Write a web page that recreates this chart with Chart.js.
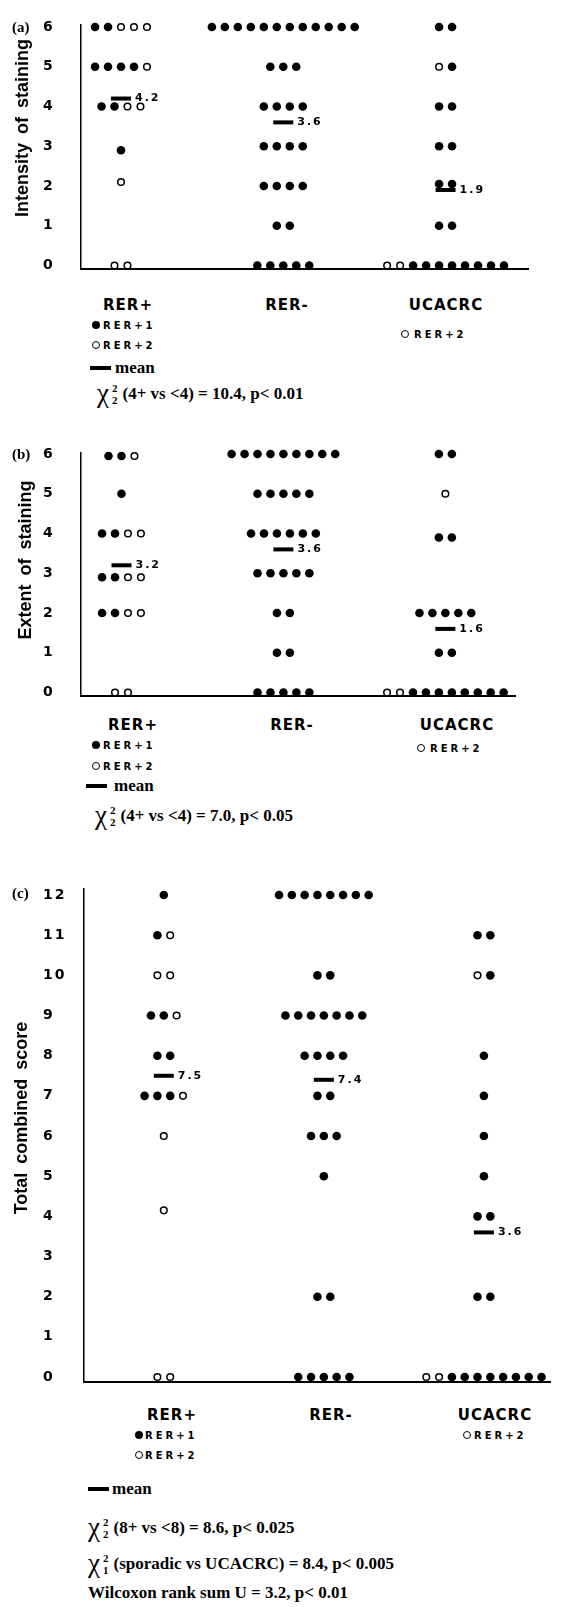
<!DOCTYPE html>
<html><head><meta charset="utf-8">
<script src="https://cdn.jsdelivr.net/npm/chart.js@4/dist/chart.umd.min.js"></script>
<style>
html,body{margin:0;padding:0;background:#fff;}
body{width:564px;height:1607px;position:relative;overflow:hidden;color:#000;}
canvas{position:absolute;left:0;}
.t{position:absolute;white-space:nowrap;line-height:1;transform:translateY(-50%);}
.cat{font:bold 15px "DejaVu Sans",sans-serif;letter-spacing:1px;transform:translate(-50%,-50%);}
.lg{font:bold 10px "DejaVu Sans",sans-serif;letter-spacing:3px;}
.serif{font-family:"Liberation Serif","Times New Roman",serif;font-weight:bold;}
.mean{font-size:17px;}
.plab{font-size:15px;}
.stat{display:flex;align-items:center;font-size:17px;}
.chi{font-size:27px;line-height:1;font-weight:normal;}
.ss{display:inline-flex;flex-direction:column;font-size:11px;line-height:12px;margin:0 5px 0 3px;text-align:center;}
.ytitle{position:absolute;font:bold 18px "Liberation Sans",Arial,sans-serif;word-spacing:4px;white-space:nowrap;line-height:1;transform:translate(-50%,-50%) rotate(-90deg);}
.dot{position:absolute;border-radius:50%;box-sizing:border-box;}
.bar{position:absolute;width:21px;height:4px;background:#000;transform:translateY(-50%);}
</style>
</head><body>
<canvas id="ca" width="564" height="285" style="top:0px"></canvas>
<canvas id="cb" width="564" height="290" style="top:420px"></canvas>
<canvas id="cc" width="564" height="540" style="top:860px"></canvas>
<script>
// ---------------- data ----------------
const CATEGORIES = ['RER+', 'RER-', 'UCACRC'];
const TICKS_6 = [0, 1, 2, 3, 4, 5, 6];
const TICKS_12 = [0, 1, 2, 3, 4, 5, 6, 7, 8, 9, 10, 11, 12];

// rows: [score, markers]  f = filled (RER+1 / other), o = open (RER+2)
const A_RERPOS = [[6, 'ffooo'], [5, 'ffffo'], [4, 'ffoo'], [2.9, 'f'], [2.1, 'o'], [0, 'oo']];
const A_RERNEG = [[6, 'ffffffffffff'], [5, 'fff'], [4, 'ffff'], [3, 'ffff'], [2, 'ffff'], [1, 'ff'], [0, 'fffff']];
const A_UCACRC = [[6, 'ff'], [5, 'of'], [4, 'ff'], [3, 'ff'], [2.05, 'ff'], [1, 'ff'], [0, 'ooffffffff']];
const A_MEANS = [4.2, 3.6, 1.9];

const B_RERPOS = [[5.95, 'ffo'], [5, 'f'], [4, 'ffoo'], [2.9, 'ffoo'], [2, 'ffoo'], [0, 'oo']];
const B_RERNEG = [[6, 'fffffffff'], [5, 'fffff'], [4, 'ffffff'], [3, 'fffff'], [2, 'ff'], [1, 'ff'], [0, 'fffff']];
const B_UCACRC = [[6, 'ff'], [5, 'o'], [3.9, 'ff'], [2, 'fffff'], [1, 'ff'], [0, 'ooffffffff']];
const B_MEANS = [3.2, 3.6, 1.6];

const C_RERPOS = [[12, 'f'], [11, 'fo'], [10, 'oo'], [9, 'ffo'], [8, 'ff'], [7, 'fffo'], [6, 'o'], [4.15, 'o'], [0, 'oo']];
const C_RERNEG = [[12, 'ffffffff'], [10, 'ff'], [9, 'fffffff'], [8, 'ffff'], [7, 'ff'], [6, 'fff'], [5, 'f'], [2, 'ff'], [0, 'fffff']];
const C_UCACRC = [[11, 'ff'], [10, 'of'], [8, 'f'], [7, 'f'], [6, 'f'], [5, 'f'], [4, 'ff'], [2, 'ff'], [0, 'ooffffffff']];
const C_MEANS = [7.5, 7.4, 3.6];

const STATS_A = [['2', '2', '(4+ vs <4) = 10.4, p< 0.01']];
const STATS_B = [['2', '2', '(4+ vs <4) = 7.0, p< 0.05']];
const STATS_C = [['2', '2', '(8+ vs <8) = 8.6, p< 0.025'], ['2', '1', '(sporadic vs UCACRC) = 8.4, p< 0.005']];
const STAT_C_EXTRA = 'Wilcoxon rank sum U = 3.2, p< 0.01';

// ---------------- chart building ----------------
const STEP = 0.08; // horizontal spacing between dots in a row (category units)

function buildPoints(groups) {
  const filled = [], open = [];
  groups.forEach((rows, gi) => {
    rows.forEach(([v, s]) => {
      const n = s.length;
      for (let j = 0; j < n; j++) {
        const p = { x: gi + (j - (n - 1) / 2) * STEP, y: v };
        (s[j] === 'f' ? filled : open).push(p);
      }
    });
  });
  return { filled, open };
}

const meanLabelPlugin = {
  id: 'meanLabels',
  beforeDraw(chart) { chart.ctx.letterSpacing = '2px'; },
  afterDatasetsDraw(chart) {
    const meta = chart.getDatasetMeta(2);
    const ds = chart.data.datasets[2];
    const ctx = chart.ctx;
    ctx.save();
    ctx.font = 'bold 11px "DejaVu Sans"';
    ctx.letterSpacing = '2px';
    ctx.fillStyle = '#000';
    ctx.textBaseline = 'middle';
    ctx.textAlign = 'left';
    meta.data.forEach((pt, i) => {
      ctx.fillText(ds.data[i].y.toFixed(1), pt.x + 14, pt.y);
    });
    ctx.restore();
  }
};

function makeChart(id, groups, means, g) {
  const pts = buildPoints(groups);
  return new Chart(document.getElementById(id), {
    type: 'scatter',
    data: {
      datasets: [
        { data: pts.filled, pointRadius: 4.3, pointHoverRadius: 4.3, pointBackgroundColor: '#000', pointBorderColor: '#000', pointBorderWidth: 0, clip: false },
        { data: pts.open, pointRadius: 3.3, pointHoverRadius: 3.3, pointBackgroundColor: '#fff', pointBorderColor: '#000', pointBorderWidth: 1.5, clip: false },
        { data: means.map((m, i) => ({ x: i, y: m })), pointStyle: 'line', pointRadius: 10, pointHoverRadius: 10, pointBorderWidth: 4, pointBorderColor: '#000', pointBackgroundColor: '#000', clip: false }
      ]
    },
    options: {
      responsive: false, animation: false, devicePixelRatio: 1,
      events: [],
      layout: { padding: g.pad },
      plugins: { legend: { display: false }, tooltip: { enabled: false } },
      scales: {
        x: {
          type: 'linear', min: g.xmin, max: g.xmax,
          ticks: { display: false },
          grid: { display: false, drawTicks: false },
          border: { display: true, color: '#000', width: 2 },
          afterFit: s => { s.height = 0; }
        },
        y: {
          type: 'linear', min: g.ymin, max: g.ymax,
          afterBuildTicks: s => { s.ticks = g.ticks.map(v => ({ value: v })); },
          ticks: { color: '#000', crossAlign: 'far', font: { family: 'DejaVu Sans', size: 14, weight: 'bold' } },
          grid: { display: false, drawTicks: false },
          border: { display: true, color: '#000', width: 1.5 },
          afterFit: s => { s.width = g.yw; }
        }
      }
    },
    plugins: [meanLabelPlugin]
  });
}

makeChart('ca', [A_RERPOS, A_RERNEG, A_UCACRC], A_MEANS,
  { pad: { left: 43, top: 25, right: 36, bottom: 16.5 }, yw: 38, xmin: -0.2465, xmax: 2.508, ymin: -0.0755, ymax: 6.05, ticks: TICKS_6 });
makeChart('cb', [B_RERPOS, B_RERNEG, B_UCACRC], B_MEANS,
  { pad: { left: 43, top: 33, right: 49, bottom: 13 }, yw: 38, xmin: -0.25, xmax: 2.43, ymin: -0.088, ymax: 6.025, ticks: TICKS_6 });
makeChart('cc', [C_RERPOS, C_RERNEG, C_UCACRC], C_MEANS,
  { pad: { left: 43, top: 29, right: 1, bottom: 18 }, yw: 41, xmin: -0.4985, xmax: 2.413, ymin: -0.124, ymax: 12.15, ticks: TICKS_12 });

// ---------------- text & legends (HTML) ----------------
function el(cls, x, y, html) {
  const d = document.createElement('div');
  d.className = cls; d.style.left = x + 'px'; d.style.top = y + 'px';
  d.innerHTML = html; document.body.appendChild(d); return d;
}
function esc(s) { return s.replace(/&/g, '&amp;').replace(/</g, '&lt;').replace(/>/g, '&gt;'); }
function dot(kind, cx, cy) {
  const d = document.createElement('div');
  d.className = 'dot';
  d.style.width = d.style.height = '8px';
  d.style.left = (cx - 4) + 'px'; d.style.top = (cy - 4) + 'px';
  if (kind === 'f') { d.style.background = '#000'; }
  else { d.style.border = '1.5px solid #000'; d.style.background = '#fff'; }
  document.body.appendChild(d);
}
function bar(x, y) { el('bar', x, y, ''); }
function stat(x, y, s) {
  el('t serif stat', x, y, '<span class="chi">&#967;</span><span class="ss"><span>' + s[0] + '</span><span>' + s[1] + '</span></span><span>' + esc(s[2]) + '</span>');
}

// panel labels and axis titles
el('t serif plab', 12, 27, '(a)');
el('t serif plab', 12, 454, '(b)');
el('t serif plab', 12, 893, '(c)');
el('ytitle', 22, 128, 'Intensity of staining');
el('ytitle', 25, 560, 'Extent of staining');
el('ytitle', 21, 1118, 'Total combined score');

// panel (a)
[128, 287, 446].forEach((cx, i) => el('t cat', cx, 305, esc(CATEGORIES[i])));
dot('f', 96, 325); el('t lg', 103, 325, 'RER+1');
dot('o', 96, 345); el('t lg', 103, 345, 'RER+2');
bar(90, 368); el('t serif mean', 115, 367, 'mean');
dot('o', 405, 334); el('t lg', 414, 334, 'RER+2');
stat(97, 393, STATS_A[0]);

// panel (b)
[133, 292, 457].forEach((cx, i) => el('t cat', cx, 725, esc(CATEGORIES[i])));
dot('f', 96, 745); el('t lg', 103, 745, 'RER+1');
dot('o', 96, 766); el('t lg', 103, 766, 'RER+2');
bar(86, 786); el('t serif mean', 114, 785, 'mean');
dot('o', 421, 748); el('t lg', 430, 748, 'RER+2');
stat(95, 815, STATS_B[0]);

// panel (c)
[172, 331, 495].forEach((cx, i) => el('t cat', cx, 1415, esc(CATEGORIES[i])));
dot('f', 139, 1435); el('t lg', 145, 1435, 'RER+1');
dot('o', 139, 1455); el('t lg', 145, 1455, 'RER+2');
dot('o', 467, 1435); el('t lg', 474, 1435, 'RER+2');
bar(88, 1489); el('t serif mean', 112, 1488, 'mean');
stat(88, 1527, STATS_C[0]);
stat(88, 1563, STATS_C[1]);
el('t serif stat', 88, 1592, esc(STAT_C_EXTRA));
</script>
</body></html>
